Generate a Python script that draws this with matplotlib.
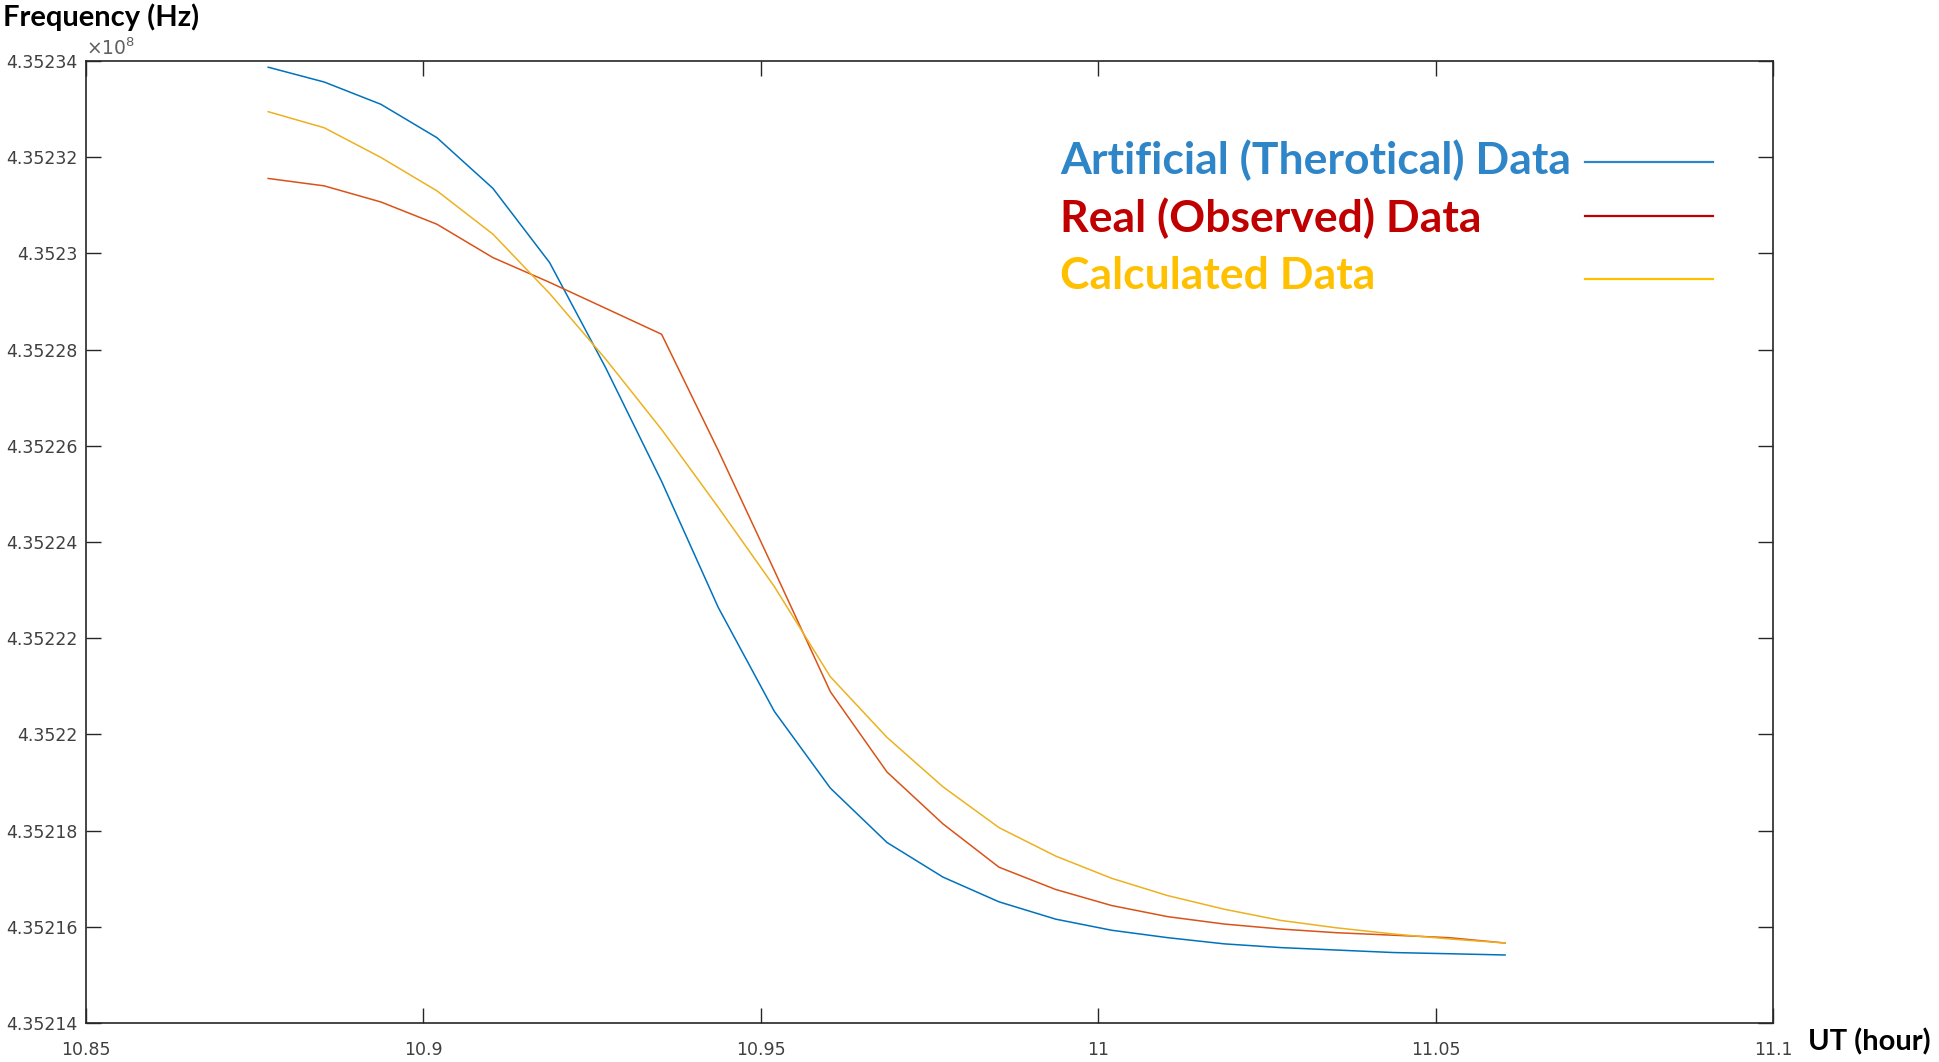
import matplotlib
matplotlib.use('Agg')
import matplotlib.pyplot as plt
from matplotlib.lines import Line2D

# ---------------- data ----------------
ut_hour = [10.8770, 10.8853, 10.8937, 10.9020, 10.9103, 10.9187, 10.9270, 10.9353,
           10.9437, 10.9520, 10.9603, 10.9687, 10.9770, 10.9853, 10.9937, 11.0020,
           11.0103, 11.0187, 11.0270, 11.0353, 11.0437, 11.0520, 11.0603]

artificial_hz = [435233871, 435233563, 435233100, 435232406, 435231352, 435229810,
                 435227625, 435225260, 435222638, 435220480, 435218884, 435217753,
                 435217033, 435216519, 435216159, 435215928, 435215774, 435215645,
                 435215568, 435215517, 435215465, 435215440, 435215414]

real_hz = [435231558, 435231404, 435231069, 435230607, 435229913, 435229398,
           435228859, 435228319, 435225902, 435223409, 435220889, 435219218,
           435218139, 435217239, 435216776, 435216442, 435216211, 435216057,
           435215954, 435215877, 435215825, 435215774, 435215663]

calculated_hz = [435232946, 435232612, 435231995, 435231301, 435230401, 435229167,
                 435227805, 435226339, 435224720, 435223075, 435221200, 435219938,
                 435218910, 435218062, 435217470, 435217008, 435216648, 435216365,
                 435216134, 435215979, 435215851, 435215748, 435215663]

series_names = ['Artificial (Therotical) Data', 'Real (Observed) Data', 'Calculated Data']

x_ticks = [10.85, 10.9, 10.95, 11.0, 11.05, 11.1]
x_tick_labels = ['10.85', '10.9', '10.95', '11', '11.05', '11.1']
y_ticks = [4.35214, 4.35216, 4.35218, 4.35220, 4.35222, 4.35224,
           4.35226, 4.35228, 4.35230, 4.35232, 4.35234]
y_tick_labels = ['4.35214', '4.35216', '4.35218', '4.3522', '4.35222', '4.35224',
                 '4.35226', '4.35228', '4.3523', '4.35232', '4.35234']
y_scale = 1e8

line_colors = ['#0072BD', '#D95319', '#EDB120']
text_colors = ['#2E86C8', '#C00000', '#FFC000']

# ---------------- figure ----------------
W, H = 1939, 1062
fig = plt.figure(figsize=(W / 100, H / 100), dpi=100)
fig.patch.set_facecolor('white')
ax = fig.add_axes([86 / W, 1 - 1023 / H, (1773 - 86) / W, (1023 - 61) / H])

for vals, col in zip([artificial_hz, real_hz, calculated_hz], line_colors):
    ax.plot(ut_hour, [v / y_scale for v in vals], color=col, lw=1.1)

ax.set_xlim(x_ticks[0], x_ticks[-1])
ax.set_ylim(y_ticks[0], y_ticks[-1])
ax.set_xticks(x_ticks)
ax.set_xticklabels(x_tick_labels)
ax.set_yticks(y_ticks)
ax.set_yticklabels(y_tick_labels)

tick_col = '#404040'
ax.tick_params(axis='both', direction='in', length=11, width=1.0, color='#262626',
               labelsize=12.5, labelcolor=tick_col, top=True, right=True)
ax.tick_params(axis='x', pad=13)
ax.tick_params(axis='y', pad=6)
for lab in ax.get_xticklabels() + ax.get_yticklabels():
    lab.set_fontfamily('DejaVu Sans')
for sp in ax.spines.values():
    sp.set_color('#262626')
    sp.set_linewidth(1.2)

# offset text (x10^8)
fig.text(86 / W, 1 - 55 / H, r'$\times10^{8}$', fontsize=13.5, color='#606060',
         family='DejaVu Sans', ha='left', va='baseline')

# axis titles
fig.text(3 / W, 1 - 3 / H, 'Frequency (Hz)', fontsize=21, fontweight='bold',
         family='Lato', color='black', ha='left', va='top')
fig.text(1808 / W, 1 - 1050 / H, 'UT (hour)', fontsize=21, fontweight='bold',
         family='Lato', color='black', ha='left', va='baseline')

# custom legend
text_baselines = [174, 232, 289]
line_ys = [162, 216, 279]
for name, tcol, tb, ly in zip(series_names, text_colors, text_baselines, line_ys):
    fig.text(1060 / W, 1 - tb / H, name, fontsize=32, fontweight='bold',
             family='Lato', color=tcol, ha='left', va='baseline')
    fig.add_artist(Line2D([1585 / W, 1713 / W], [1 - ly / H, 1 - ly / H],
                          transform=fig.transFigure, color=tcol, lw=1.6))

fig.savefig('out.png', dpi=100)
